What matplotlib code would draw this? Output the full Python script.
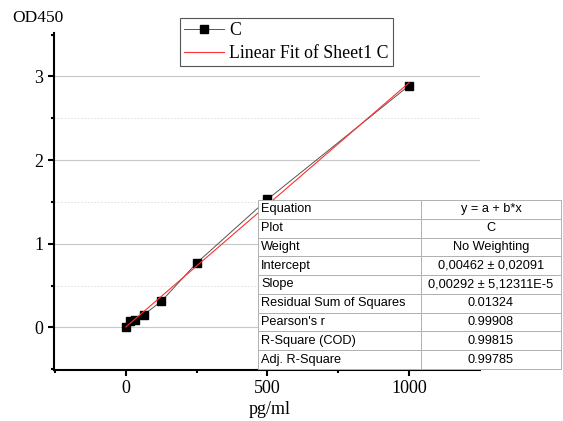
import numpy as np
import matplotlib.pyplot as plt

# dane
conc = [0, 15.6, 31.25, 62.5, 125, 250, 500, 1000]
od450 = [0.01, 0.07, 0.09, 0.15, 0.31, 0.77, 1.53, 2.89]
intercept = 0.00462
slope = 0.00292

table_rows = [
    ["Equation", "y = a + b*x"],
    ["Plot", "C"],
    ["Weight", "No Weighting"],
    ["Intercept", "0,00462 \u00b1 0,02091"],
    ["Slope", "0,00292 \u00b1 5,12311E-5"],
    ["Residual Sum of Squares", "0.01324"],
    ["Pearson's r", "0.99908"],
    ["R-Square (COD)", "0.99815"],
    ["Adj. R-Square", "0.99785"],
]

serif = ['Liberation Serif', 'DejaVu Serif']
sans = ['Liberation Sans', 'DejaVu Sans']

fig = plt.figure(figsize=(5.63, 4.21), dpi=100)
ax = fig.add_axes([54 / 563, 51 / 421, 426 / 563, 337 / 421])

ax.set_xlim(-254, 1251)
ax.set_ylim(-0.51, 3.52)

# siatka
for y in [0, 1, 2, 3]:
    ax.axhline(y, color='#c8c8c8', lw=0.8, zorder=0)
for y in [0.5, 1.5, 2.5]:
    ax.axhline(y, color='#dddddd', lw=0.6, ls=(0, (2, 2)), zorder=0)

# dane + dopasowanie
fit_x = np.array([min(conc), max(conc)])
ax.plot(conc, od450, color='#555555', lw=0.7, marker='s', ms=6,
        mfc='black', mec='black', label='C', zorder=3)
ax.plot(fit_x, intercept + slope * fit_x, color='#ff3030', lw=0.8,
        label='Linear Fit of Sheet1 C', zorder=4)

# osie
for s in ['top', 'right']:
    ax.spines[s].set_visible(False)
ax.spines['left'].set_linewidth(1.5)
ax.spines['bottom'].set_linewidth(1.5)
ax.set_xticks([0, 500, 1000])
ax.set_xticks([-250, 250, 750], minor=True)
ax.set_yticks([0, 1, 2, 3])
ax.set_yticks([-0.5, 0.5, 1.5, 2.5, 3.5], minor=True)
ax.tick_params(which='major', direction='out', length=4.5, width=1.5, pad=3)
ax.tick_params(which='minor', direction='out', length=2.5, width=1.5)
for lab in ax.get_xticklabels() + ax.get_yticklabels():
    lab.set_family(serif)
    lab.set_fontsize(13)

fig.text(12 / 563, 1 - 18 / 421, 'OD450', family=serif, fontsize=12.5,
         ha='left', va='center')
fig.text(270 / 563, 1 - 409 / 421, 'pg/ml', family=serif, fontsize=13,
         ha='center', va='center')

leg = ax.legend(loc='upper left', bbox_to_anchor=(180 / 563, 1 - 18 / 421),
                bbox_transform=fig.transFigure, fancybox=False,
                edgecolor='#555555', framealpha=1, handlelength=2.2,
                borderpad=0.25, labelspacing=0.3, handletextpad=0.3,
                borderaxespad=0, prop={'family': serif, 'size': 12.8})
leg.get_frame().set_linewidth(0.8)

# tabela wyników dopasowania
tax = fig.add_axes([258 / 563, 52 / 421, 303 / 563, 169 / 421])
tax.axis('off')
tbl = tax.table(cellText=table_rows, bbox=[0, 0, 1, 1],
                colWidths=[163, 140], cellLoc='center')
tbl.auto_set_font_size(False)
for (r, c), cell in tbl.get_celld().items():
    cell.set_edgecolor('#b0b0b0')
    cell.set_linewidth(0.7)
    cell.set_facecolor('white')
    cell.get_text().set_fontsize(9.2)
    cell.get_text().set_family(sans)
    if c == 0:
        cell.get_text().set_ha('left')
        cell.PAD = 0.02
tbl.set_zorder(10)

fig.savefig('out.png', dpi=100)
